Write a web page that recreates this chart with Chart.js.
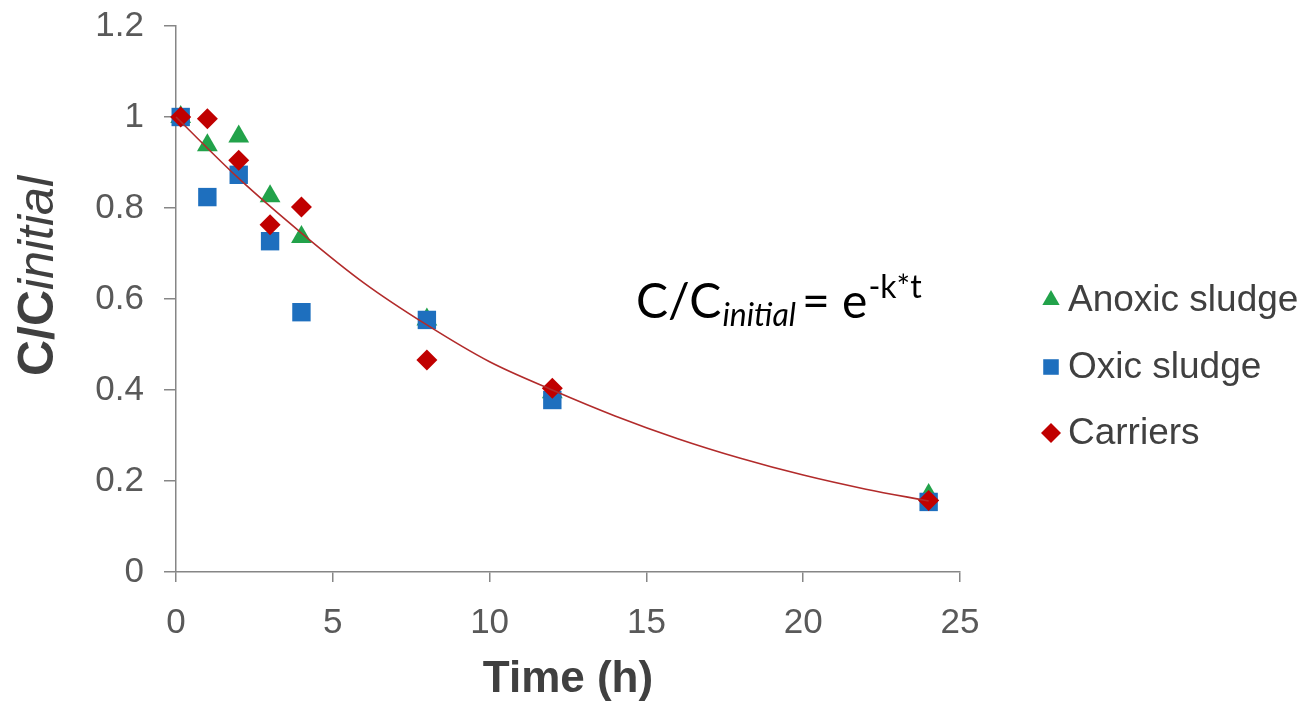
<!DOCTYPE html>
<html>
<head>
<meta charset="utf-8">
<script src="https://cdn.jsdelivr.net/npm/chart.js@4.4.0/dist/chart.umd.min.js"></script>
<style>
  html, body { margin: 0; padding: 0; background: #fff; }
  #wrap { width: 1308px; height: 702px; }
</style>
</head>
<body>
<div id="wrap"><canvas id="chart" width="1308" height="702"></canvas></div>
<script>
// Sampling times (h) and measured C/Cinitial values
const timeH = [0.15, 1, 2, 3, 4, 8, 12, 24];
const anoxicSludge = [1.0, 0.938, 0.957, 0.826, 0.736, 0.555, 0.395, 0.169];
const oxicSludge = [1.0, 0.824, 0.873, 0.727, 0.571, 0.554, 0.378, 0.154];
const carriers = [1.0, 0.996, 0.905, 0.763, 0.802, 0.466, 0.404, 0.157];

// Fitted curve
const fitTime = [0, 2, 4, 6, 8, 10, 12, 14, 16, 18, 20, 22, 24];
const fitValue = [1.0, 0.865, 0.745, 0.635, 0.543, 0.462, 0.40, 0.343, 0.293, 0.25, 0.213, 0.182, 0.156];

const seriesNames = ['Anoxic sludge', 'Oxic sludge', 'Carriers'];
const xTitle = 'Time (h)';

const axisGrey = '#868686';
const textGrey = '#595959';
const darkText = '#404040';

function toPoints(xs, ys) {
    return xs.map((x, i) => ({ x: x, y: ys[i] }));
}

// extra text: rotated y title with mixed styles, the equation, legend
const annotate = {
    id: 'annotate',
    afterDraw(chart) {
        const ctx = chart.ctx;

        // y axis title
        ctx.save();
        ctx.translate(39, 276);
        ctx.rotate(-Math.PI / 2);
        const boldF = 'bold 50px "Liberation Sans"';
        const italF = 'italic 50px "Liberation Sans"';
        ctx.font = boldF;
        const w1 = ctx.measureText('C/C').width;
        ctx.font = italF;
        const w2 = ctx.measureText('initial').width;
        let x = -(w1 + w2) / 2;
        ctx.textBaseline = 'middle';
        ctx.textAlign = 'left';
        ctx.fillStyle = darkText;
        ctx.font = boldF;
        ctx.fillText('C/C', x, 0);
        ctx.font = italF;
        ctx.fillText('initial', x + w1, 0);
        ctx.restore();

        // equation
        ctx.save();
        ctx.fillStyle = '#000';
        ctx.textBaseline = 'alphabetic';
        ctx.textAlign = 'left';
        let ex = 636;
        const base = 318;
        ctx.font = '48px Lato';
        ctx.fillText('C/C', ex, base);
        ex += ctx.measureText('C/C').width + 1;
        ctx.font = 'italic 32px Lato';
        ctx.fillText('initial', ex, base + 8);
        ex += ctx.measureText('initial').width + 6;
        ctx.font = '48px Lato';
        ctx.fillText('= e', ex, base);
        ex += ctx.measureText('= e').width + 1;
        ctx.font = '32px Lato';
        ctx.fillText('-k*t', ex, base - 20);
        ctx.restore();

        // legend
        ctx.save();
        const rows = [300, 367, 433];
        const markX = 1051;
        const textX = 1068;
        const legendSizes = [10, 11, 10];
        ctx.font = '37px "Liberation Sans"';
        ctx.textBaseline = 'middle';
        ctx.textAlign = 'left';
        seriesNames.forEach((name, i) => {
            const ds = chart.data.datasets.find(d => d.label === name);
            ctx.fillStyle = ds.backgroundColor;
            ctx.strokeStyle = ds.backgroundColor;
            Chart.helpers.drawPoint(ctx, {
                pointStyle: ds.pointStyle,
                radius: legendSizes[i],
                rotation: 0,
                borderWidth: 0
            }, markX, rows[i]);
            ctx.fillStyle = darkText;
            ctx.fillText(name, textX, rows[i] + 1);
        });
        ctx.restore();
    }
};

new Chart(document.getElementById('chart'), {
    type: 'scatter',
    data: {
        datasets: [
            {
                label: 'fit',
                data: toPoints(fitTime, fitValue),
                showLine: true,
                pointRadius: 0,
                borderColor: '#b22b2b',
                borderWidth: 1.6,
                cubicInterpolationMode: 'monotone',
                order: 0,
                clip: false
            },
            {
                label: seriesNames[2],
                data: toPoints(timeH, carriers),
                pointStyle: 'rectRot',
                pointRadius: 10.5,
                backgroundColor: '#c00000',
                borderColor: '#c00000',
                borderWidth: 0,
                order: 1,
                clip: false
            },
            {
                label: seriesNames[1],
                data: toPoints(timeH, oxicSludge),
                pointStyle: 'rect',
                pointRadius: 13,
                backgroundColor: '#1e6fbe',
                borderColor: '#1e6fbe',
                borderWidth: 0,
                order: 2,
                clip: false
            },
            {
                label: seriesNames[0],
                data: toPoints(timeH, anoxicSludge),
                pointStyle: 'triangle',
                pointRadius: 12,
                backgroundColor: '#22a24a',
                borderColor: '#22a24a',
                borderWidth: 0,
                order: 3,
                clip: false
            }
        ]
    },
    options: {
        responsive: false,
        animation: false,
        layout: { padding: { top: 26, right: 348, left: 0, bottom: 0 } },
        plugins: {
            legend: { display: false },
            tooltip: { enabled: false }
        },
        scales: {
            x: {
                type: 'linear',
                min: 0,
                max: 25,
                ticks: {
                    stepSize: 5,
                    color: textGrey,
                    padding: 20,
                    font: { family: 'Liberation Sans', size: 35 }
                },
                grid: {
                    drawOnChartArea: false,
                    color: axisGrey,
                    lineWidth: 1.5,
                    tickLength: 10
                },
                border: { color: axisGrey, width: 1.5 },
                title: {
                    display: true,
                    text: xTitle,
                    color: darkText,
                    padding: { top: 0, bottom: -4 },
                    font: { family: 'Liberation Sans', size: 44, weight: 'bold' }
                },
                afterFit(scale) {
                    scale.height = 130;
                    scale.paddingLeft = 0;
                    scale.paddingRight = 0;
                }
            },
            y: {
                min: 0,
                max: 1.2,
                ticks: {
                    stepSize: 0.2,
                    color: textGrey,
                    padding: 20,
                    font: { family: 'Liberation Sans', size: 35 },
                    callback: v => String(Number(v.toFixed(1)))
                },
                grid: {
                    drawOnChartArea: false,
                    color: axisGrey,
                    lineWidth: 1.5,
                    tickLength: 12
                },
                border: { color: axisGrey, width: 1.5 },
                afterFit(scale) {
                    scale.width = 176;
                    scale.paddingTop = 0;
                    scale.paddingBottom = 0;
                }
            }
        }
    },
    plugins: [annotate]
});
</script>
</body>
</html>
